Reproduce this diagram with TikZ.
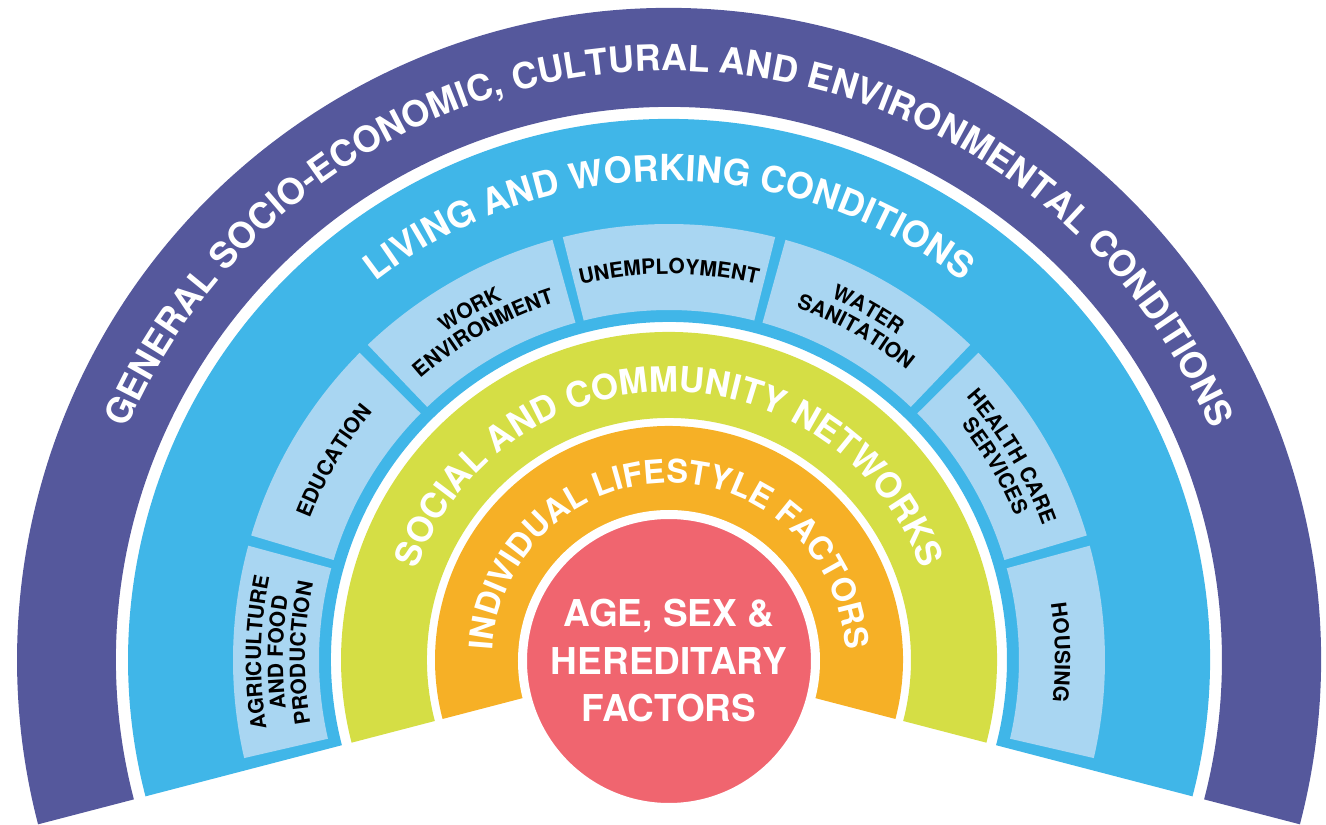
\documentclass[tikz,border=0pt]{standalone}
\usepackage{fontspec}
\setmainfont{TeX Gyre Heros}
\usepackage{tikz}
\usetikzlibrary{decorations.text}

\definecolor{generalpurple}{RGB}{85,88,156}
\definecolor{livingblue}{RGB}{64,182,232}
\definecolor{factorblue}{RGB}{169,214,242}
\definecolor{socialgreen}{RGB}{213,222,69}
\definecolor{lifeorange}{RGB}{246,176,38}
\definecolor{corered}{RGB}{240,101,111}

% one ring of the rainbow: colour, inner radius, outer radius, from angle, to angle
\newcommand{\ringpart}[5]{%
  \fill[#1] ({#4}:{#3}) arc[start angle={#4}, end angle={#5}, radius={#3}]
    -- ({#5}:{#2}) arc[start angle={#5}, end angle={#4}, radius={#2}] -- cycle;}

% black label on a factor box: centre angle, radius, text
\newcommand{\boxlabel}[3]{%
  \path[decorate, decoration={text along path, text align=center, text color=black,
    text={|\bfseries\fontsize{21}{21}\selectfont|#3}}]
    ({#1+14}:#2) arc[start angle={#1+14}, end angle={#1-14}, radius=#2];}

\begin{document}
\begin{tikzpicture}[x=1pt, y=1pt,
    core/.style={circle, fill=corered, draw=white, line width=9, minimum size=293,
      inner sep=0, text=white, align=center, font=\bfseries\fontsize{37}{47.5}\selectfont}]
  \useasboundingbox (-669,-165) rectangle (657,660);

  %% Rings
  \ringpart{generalpurple}{553}{652}{-14.6}{194.6}
  \ringpart{livingblue}{338}{541}{-14.6}{194.6}
  \ringpart{socialgreen}{242}{328}{-14.6}{194.6}
  \ringpart{lifeorange}{140}{234}{-14.6}{194.6}

  % light blue factor boxes inside the living and working ring
  \foreach \c in {1.1, 30.7, 60.4, 90, 119.6, 149.3, 178.9}
    {\ringpart{factorblue}{350}{436}{\c-14.1}{\c+14.1}}

  %% Ring titles (white, along the arcs)
  \path[decorate, decoration={text along path, text align=center, text color=white,
    text={|\bfseries\fontsize{36}{36}\selectfont|GENERAL SOCIO-ECONOMIC, CULTURAL AND ENVIRONMENTAL CONDITIONS}}]
    (175:589) arc[start angle=175, end angle=5, radius=589];
  \path[decorate, decoration={text along path, text align=center, text color=white,
    text={|\bfseries\fontsize{36}{36}\selectfont|LIVING AND WORKING CONDITIONS}}]
    (170:479) arc[start angle=170, end angle=10, radius=479];
  \path[decorate, decoration={text along path, text align=center, text color=white,
    text={|\bfseries\fontsize{35}{35}\selectfont|SOCIAL AND COMMUNITY NETWORKS}}]
    (185:268) arc[start angle=185, end angle=-5, radius=268];
  \path[decorate, decoration={text along path, text align=center, text color=white,
    text={|\bfseries\fontsize{32.5}{32.5}\selectfont|INDIVIDUAL LIFESTYLE FACTORS}}]
    (195:177) arc[start angle=195, end angle=-15, radius=177];

  %% Factor box labels
  \boxlabel{178.9}{408}{AGRICULTURE}
  \boxlabel{178.9}{386}{AND FOOD}
  \boxlabel{178.9}{364}{PRODUCTION}
  \boxlabel{149.3}{386}{EDUCATION}
  \boxlabel{119.6}{397}{WORK}
  \boxlabel{119.6}{375}{ENVIRONMENT}
  \boxlabel{90}{386}{UNEMPLOYMENT}
  \boxlabel{60.4}{397}{WATER}
  \boxlabel{60.4}{375}{SANITATION}
  \boxlabel{30.7}{397}{HEALTH CARE}
  \boxlabel{30.7}{375}{SERVICES}
  \boxlabel{1.1}{386}{HOUSING}

  %% Core
  \node[core] (core) at (0,-1) {AGE, SEX \&\\HEREDITARY\\FACTORS};
\end{tikzpicture}
\end{document}
